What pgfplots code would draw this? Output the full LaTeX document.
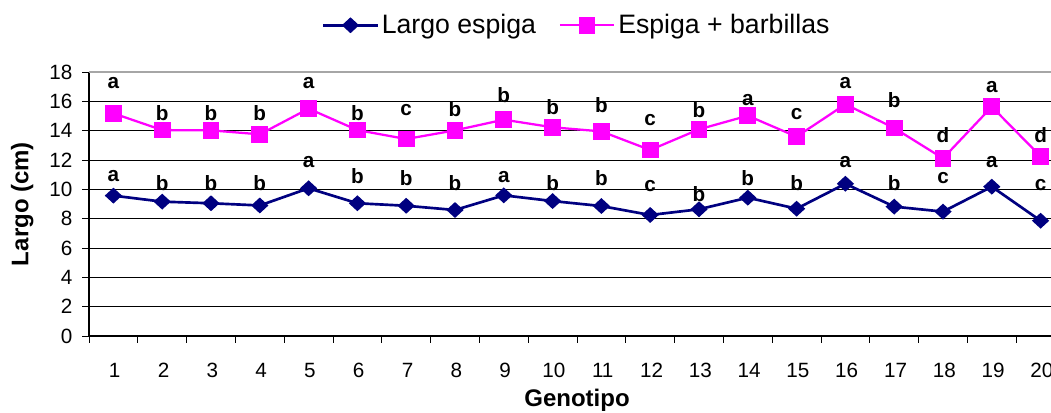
\documentclass[border=0pt]{standalone}
\usepackage{pgfplots}
\pgfplotsset{compat=1.18}
\usepackage{pgfplotstable}
\usepackage{fontspec}
\setmainfont{Liberation Sans}

\definecolor{navyline}{RGB}{0,0,128}
\definecolor{magline}{RGB}{255,0,255}

% Largo de espiga (cm) por genotipo
\pgfplotstableread{
x y
1 9.57
2 9.16
3 9.05
4 8.90
5 10.07
6 9.05
7 8.88
8 8.59
9 9.59
10 9.20
11 8.86
12 8.25
13 8.64
14 9.43
15 8.68
16 10.38
17 8.82
18 8.48
19 10.18
20 7.86
}\largo

% Espiga + barbillas (cm)
\pgfplotstableread{
x y
1 15.18
2 14.04
3 14.02
4 13.75
5 15.50
6 14.04
7 13.43
8 14.02
9 14.75
10 14.23
11 13.95
12 12.68
13 14.09
14 15.02
15 13.59
16 15.80
17 14.18
18 12.11
19 15.63
20 12.25
}\barbillas

% letras de significancia, largo espiga
\pgfplotstableread{
x y t
1 10.90 a
2 10.41 b
3 10.41 b
4 10.41 b
5 11.88 a
6 10.90 b
7 10.75 b
8 10.41 b
9 10.86 a
10 10.41 b
11 10.75 b
12 10.22 c
13 9.68 b
14 10.75 b
15 10.41 b
16 11.88 a
17 10.41 b
18 10.75 c
19 11.88 a
20 10.29 c
}\letrasLargo

% letras de significancia, espiga + barbillas
\pgfplotstableread{
x y t
1 17.22 a
2 15.22 b
3 15.18 b
4 15.18 b
5 17.22 a
6 15.18 b
7 15.40 c
8 15.50 b
9 16.43 b
10 15.59 b
11 15.75 b
12 14.72 c
13 15.40 b
14 16.09 a
15 15.13 c
16 17.22 a
17 16.09 b
18 13.70 d
19 17.00 a
20 13.70 d
}\letrasBarb

\begin{document}
\begin{tikzpicture}
\begin{axis}[
  at={(0,0)}, anchor=south west,
  scale only axis, width=732pt, height=198pt,
  xmin=0.5, xmax=20.5, ymin=0, ymax=18,
  xtick={1,...,20},
  minor xtick={0.5,1.5,...,20.5},
  ytick={0,2,...,18},
  axis x line*=bottom, axis y line*=left,
  axis line style={black, line width=0.8pt},
  tick align=outside,
  major tick length=5pt, minor tick length=5pt,
  major x tick style={draw=none},
  minor x tick style={black, line width=0.6pt},
  major y tick style={black, line width=0.6pt},
  ymajorgrids, major grid style={black, line width=0.6pt},
  /pgf/number format/assume math mode=true,
  tick label style={font=\fontsize{15.5}{18}\selectfont},
  xticklabel style={yshift=-12pt, xshift=1pt},
  yticklabel style={xshift=-4pt},
  xlabel={Genotipo}, ylabel={Largo (cm)},
  label style={font=\bfseries\fontsize{18}{21}\selectfont},
  xlabel style={at={(axis description cs:0.5,-0.242)}, anchor=center},
  ylabel style={at={(axis description cs:-0.0683,0.5)}, anchor=center},
  legend style={at={(axis description cs:0.5,1.177)}, anchor=center,
    draw=none, fill=none, legend columns=-1,
    font=\fontsize{20}{24}\selectfont,
    /tikz/every even column/.append style={column sep=15pt}},
  legend image code/.code={\draw[mark repeat=2,mark phase=2,#1]
    plot coordinates {(0pt,0pt) (20.5pt,0pt) (41pt,0pt)};},
]
\draw[gray!70, line width=1.2pt] (rel axis cs:0,1) -- (rel axis cs:1,1);

\addplot[navyline, line width=2pt, mark=diamond*, mark size=4.6pt,
  mark options={solid, fill=navyline, xscale=1.45}] table[x=x,y=y]{\largo};
\addlegendentry{Largo espiga}
\addplot[magline, line width=1.7pt, mark=square*, mark size=5.4pt,
  mark options={solid, fill=magline}] table[x=x,y=y]{\barbillas};
\addlegendentry{Espiga + barbillas}

\addplot[draw=none, mark=none, forget plot, nodes near coords,
  point meta=explicit symbolic,
  every node near coord/.append style={anchor=center, inner sep=0pt,
    text=black, font=\bfseries\fontsize{15.5}{18}\selectfont}]
  table[x=x,y=y,meta=t]{\letrasLargo};
\addplot[draw=none, mark=none, forget plot, nodes near coords,
  point meta=explicit symbolic,
  every node near coord/.append style={anchor=center, inner sep=0pt,
    text=black, font=\bfseries\fontsize{15.5}{18}\selectfont}]
  table[x=x,y=y,meta=t]{\letrasBarb};
\end{axis}
\pgfresetboundingbox
\path[use as bounding box] (-66.75pt,-57.75pt) rectangle (721.5pt,252pt);
\end{tikzpicture}
\end{document}
